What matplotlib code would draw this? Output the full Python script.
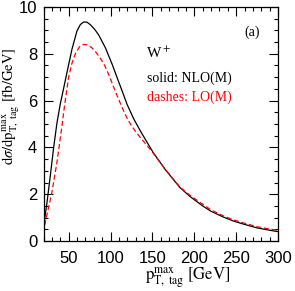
import matplotlib
matplotlib.use("Agg")
import matplotlib.pyplot as plt
from matplotlib.ticker import MultipleLocator
import numpy as np

plt.rcParams['mathtext.fontset'] = 'stix'
plt.rcParams['font.family'] = 'Liberation Serif'

# NLO(M), solid black
pt_nlo = [20, 21, 24, 28, 32, 36, 40, 43, 48, 54, 60, 64, 68, 72, 76, 81, 86, 94,
          102, 108, 114, 120, 128, 137, 151, 165, 173, 183, 195, 210, 220, 235,
          247, 260, 275, 290, 300]
ds_nlo = [0.55, 0.85, 1.6, 2.75, 3.96, 5.03, 5.85, 6.35, 7.2, 8.2, 8.98, 9.25,
          9.36, 9.35, 9.24, 9.05, 8.8, 8.25, 7.55, 6.97, 6.4, 5.82, 5.2, 4.62,
          3.78, 3.07, 2.72, 2.28, 1.9, 1.5, 1.27, 1.02, 0.85, 0.71, 0.56, 0.46, 0.4]

# LO(M), red dashes
pt_lo = [20, 21, 24, 30, 36, 42, 45, 50, 54, 58, 63, 68, 73, 78, 83, 88, 93, 98,
         103, 108, 113, 117, 121, 125, 130, 135, 142, 150, 165, 183, 195, 210,
         220, 235, 247, 260, 275, 290, 300]
ds_lo = [0.35, 0.6, 1.1, 2.08, 3.35, 4.9, 5.75, 7.0, 7.6, 8.0, 8.3, 8.4, 8.38,
         8.25, 8.05, 7.8, 7.5, 7.1, 6.65, 6.2, 5.78, 5.45, 5.17, 4.93, 4.68,
         4.45, 4.15, 3.8, 3.08, 2.3, 1.95, 1.57, 1.33, 1.07, 0.9, 0.76, 0.61,
         0.51, 0.45]

fig = plt.figure(figsize=(2.95, 2.91), dpi=100)
ax = fig.add_axes([43.5/295, 1 - 241/291, 234.5/295, 234/291])

ax.plot(pt_nlo, ds_nlo, color='black', lw=0.9)
ax.plot(pt_lo, ds_lo, color='red', lw=0.9, dashes=(4, 2.2))

ax.set_xlim(20, 300)
ax.set_ylim(0, 10)
ax.xaxis.set_major_locator(MultipleLocator(50))
ax.xaxis.set_minor_locator(MultipleLocator(10))
ax.yaxis.set_major_locator(MultipleLocator(2))
ax.yaxis.set_minor_locator(MultipleLocator(0.5))
ax.tick_params(which='both', direction='in', top=True, right=True, width=0.8)
ax.tick_params(which='major', length=6.5)
ax.tick_params(which='minor', length=3)
ax.tick_params(axis='x', which='major', pad=7.5)
ax.tick_params(axis='y', which='major', pad=4.5)
for lab in ax.get_xticklabels() + ax.get_yticklabels():
    lab.set_fontfamily('Liberation Sans')
    lab.set_fontsize(12)
for s in ax.spines.values():
    s.set_linewidth(0.9)

ax.set_xlabel(r'$\mathrm{p}_{\mathrm{T,\ tag}}^{\mathrm{max}}\ \mathrm{[GeV]}$', fontsize=12)
ax.xaxis.set_label_coords(0.614, -0.105)
ax.set_ylabel(r'$\mathrm{d}\sigma/\mathrm{dp}_{\mathrm{T,\ tag}}^{\mathrm{max}}\ \mathrm{[fb/GeV]}$', fontsize=10.5)
ax.yaxis.set_label_coords(-0.092, 0.577)

ax.text(0.438, 0.803, r'W$^+$', transform=ax.transAxes, fontsize=11, va='center')
ax.text(0.44, 0.695, 'solid: NLO(M)', transform=ax.transAxes, fontsize=10, va='center')
ax.text(0.44, 0.613, 'dashes: LO(M)', transform=ax.transAxes, fontsize=10,
        va='center', color='red')
ax.text(0.855, 0.893, '(a)', transform=ax.transAxes, fontsize=10, va='center')

fig.savefig('out.png', dpi=100)
